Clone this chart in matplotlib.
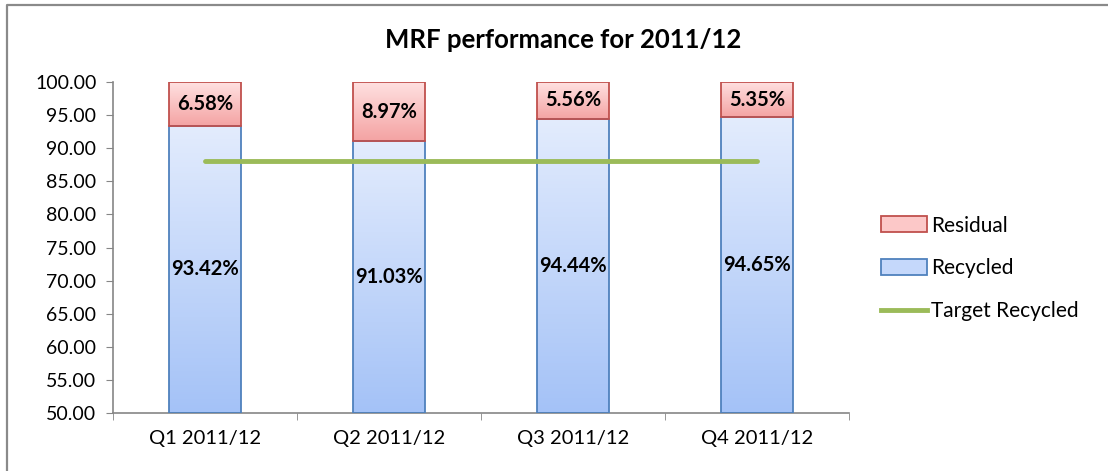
import numpy as np
import matplotlib
matplotlib.use('Agg')
import matplotlib.pyplot as plt
from matplotlib.patches import Rectangle, Patch
from matplotlib.lines import Line2D
from matplotlib.colors import LinearSegmentedColormap

quarters = ['Q1 2011/12', 'Q2 2011/12', 'Q3 2011/12', 'Q4 2011/12']
recycled = [93.42, 91.03, 94.44, 94.65]
residual = [6.58, 8.97, 5.56, 5.35]
target = [88, 88, 88, 88]

plt.rcParams['font.family'] = ['Lato', 'DejaVu Sans']

fig = plt.figure(figsize=(11.08, 4.71), dpi=100)
ax = fig.add_axes([0.102, 0.123, 0.664, 0.703])

# outer chart border (only top and left visible in the crop)
fig.add_artist(Line2D([7 / 1108, 7 / 1108, 1.0], [0.0, 1 - 4.5 / 471, 1 - 4.5 / 471],
                      transform=fig.transFigure, color='#8a8a8a', linewidth=1.6))

blue_cmap = LinearSegmentedColormap.from_list('b', ['#a4c2f7', '#e3ecfd'])
red_cmap = LinearSegmentedColormap.from_list('r', ['#f4a3a3', '#ffe1e1'])
grad = np.linspace(0, 1, 256).reshape(-1, 1)

x = np.arange(len(quarters))
width = 0.39
ymin, ymax = 50, 100

def gradient_bar(xc, bottom, height, cmap, edge):
    top = bottom + height
    lo = max(bottom, ymin)
    rect = Rectangle((xc - width / 2, lo), width, top - lo, facecolor='none',
                     edgecolor=edge, linewidth=1.3, zorder=3)
    ax.add_patch(rect)
    im = ax.imshow(grad, cmap=cmap, origin='lower', aspect='auto',
                   extent=(xc - width / 2, xc + width / 2, lo, top), zorder=2)
    im.set_clip_path(rect)

for i in x:
    gradient_bar(i, 0, recycled[i], blue_cmap, '#4f81bd')
    gradient_bar(i, recycled[i], residual[i], red_cmap, '#c0504d')
    ax.text(i, (ymin + recycled[i]) / 2, f'{recycled[i]:.2f}%', ha='center', va='center',
            fontsize=14.5, fontweight='bold', zorder=5)
    ax.text(i, recycled[i] + residual[i] / 2, f'{residual[i]:.2f}%', ha='center', va='center',
            fontsize=14.5, fontweight='bold', zorder=5)

ax.plot(x, target, color='#9bbb59', linewidth=3.5, solid_capstyle='round', zorder=4)

ax.set_xlim(-0.5, len(quarters) - 0.5)
ax.set_ylim(ymin, ymax)
ax.set_yticks(np.arange(50, 101, 5))
ax.set_yticklabels([f'{v:.2f}' for v in np.arange(50, 101, 5)], fontsize=14)
ax.set_xticks(x)
ax.set_xticklabels(quarters, fontsize=14.5)
ax.set_xticks(np.arange(-0.5, len(quarters)), minor=True)
ax.tick_params(axis='x', which='major', length=0, pad=12)
ax.tick_params(axis='x', which='minor', length=5, color='#868686', direction='out')
ax.tick_params(axis='y', length=5, color='#868686', direction='out', pad=7)
for s in ['top', 'right']:
    ax.spines[s].set_visible(False)
for s in ['left', 'bottom']:
    ax.spines[s].set_color('#868686')
    ax.spines[s].set_linewidth(1.2)

fig.text(0.508, 0.915, 'MRF performance for 2011/12', ha='center', va='center',
         fontsize=18.5, fontweight='bold')

handles = [Patch(facecolor='#fcc8c8', edgecolor='#c0504d', linewidth=1.3),
           Patch(facecolor='#c5d8fb', edgecolor='#4f81bd', linewidth=1.3),
           Line2D([], [], color='#9bbb59', linewidth=3.5)]
fig.legend(handles, ['Residual', 'Recycled', 'Target Recycled'], loc='center left',
           bbox_to_anchor=(0.788, 0.43), frameon=False, fontsize=15,
           handlelength=2.2, handleheight=0.8, labelspacing=1.1, handletextpad=0.2,
           borderaxespad=0.0)

fig.savefig('out.png', dpi=100)
